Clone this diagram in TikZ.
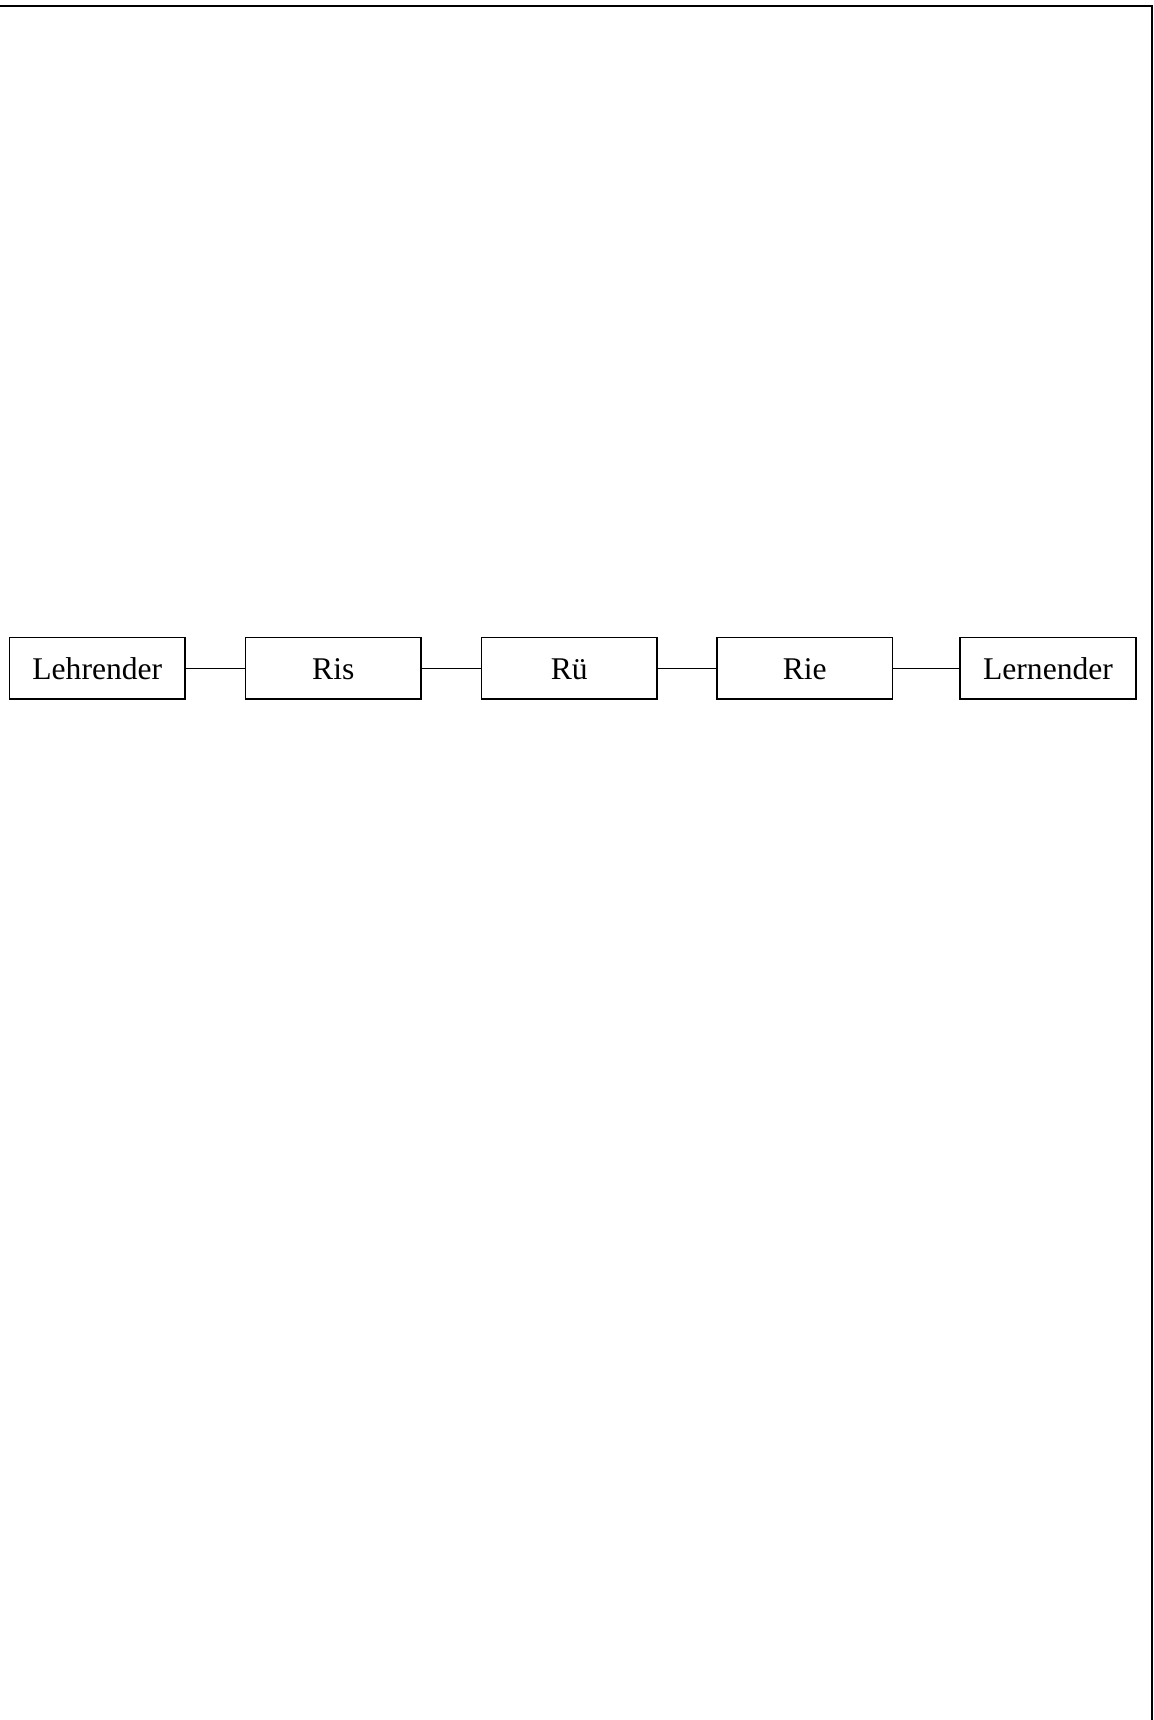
\documentclass[tikz,border=0pt]{standalone}
\usepackage{fontspec}
\setmainfont{Liberation Serif}
\begin{document}
\begin{tikzpicture}[x=0.75pt,y=-0.75pt,
  box/.style={draw=black,line width=1.05pt,rectangle,inner sep=0pt,
    minimum width=131.8pt,minimum height=46pt,
    text height=16.7pt,text depth=0pt,
    font=\fontsize{23.7}{28}\selectfont},
  conn/.style={draw=black,line width=1.05pt},
  frame/.style={draw=black,line width=1.5pt}]
\useasboundingbox (0,0) rectangle (1153,1720);
\node[box] (lehr) at (97.3,668.4) {Lehrender};
\node[box] (ris) at (333.3,668.4) {Ris};
\node[box] (rue) at (569.2,668.4) {Rü};
\node[box] (rie) at (804.7,668.4) {Rie};
\node[box] (lern) at (1048,668.4) {Lernender};
\draw[conn] (lehr) -- (ris);
\draw[conn] (ris) -- (rue);
\draw[conn] (rue) -- (rie);
\draw[conn] (rie) -- (lern);
\coordinate (tl) at (0,6.5);
\coordinate (tr) at (1151.7,6.5);
\coordinate (br) at (1151.7,1720);
\draw[frame] (tl) -- (tr) -- (br);
\end{tikzpicture}
\end{document}
